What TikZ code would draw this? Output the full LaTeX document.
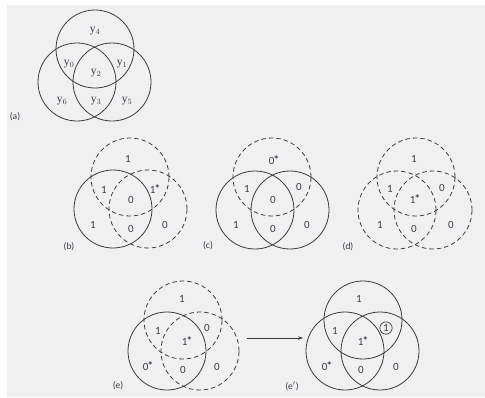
\documentclass[tikz,border=0pt]{standalone}
\usepackage{fontspec}
\setmainfont{Carlito}
\newfontfamily\yfont{Liberation Serif}
\usetikzlibrary{arrows.meta}
\definecolor{bgc}{HTML}{F0F0F0}
\definecolor{linec}{HTML}{3C3C3C}
\definecolor{txtc}{HTML}{3A3A48}
\newcommand{\st}{\kern-0.8pt\raisebox{1.5pt}{\bfseries *}}
\tikzset{
  vc/.style={circle, draw=linec, line width=0.8pt, minimum size=78pt, inner sep=0pt},
  vd/.style={vc, dash pattern=on 4.5pt off 3pt},
  num/.style={text=txtc, font=\fontsize{11}{12}\selectfont, inner sep=0pt},
  yl/.style={text=txtc, font=\yfont\fontsize{11.5}{12}\selectfont, inner sep=0pt},
  plabel/.style={text=txtc, font=\fontsize{9.5}{11}\selectfont, inner sep=0pt},
  ring/.style={circle, draw=linec, line width=0.7pt, inner sep=1.2pt}
}
\begin{document}
\begin{tikzpicture}[x=1pt,y=-1pt]
\useasboundingbox (0,0) rectangle (485,397);
\fill[bgc] (7,5) rectangle (485,397);
% (a)
\node[vc] (aT) at (95,49) {};
\node[vc] (aL) at (77,82) {};
\node[vc] (aR) at (112,82) {};
\node[yl] (y4) at (95,31) {y$_4$};
\node[yl] (y0) at (69,64) {y$_0$};
\node[yl] (y2) at (96,73) {y$_2$};
\node[yl] (y1) at (122,64) {y$_1$};
\node[yl] (y6) at (62,101) {y$_6$};
\node[yl] (y3) at (96,101) {y$_3$};
\node[yl] (y5) at (127,101) {y$_5$};
\node[plabel] (la) at (15,117) {(a)};
% (b)
\node[vd] (bT) at (130,177) {};
\node[vc] (bL) at (113,209) {};
\node[vd] (bR) at (148,209) {};
\node[num] (b1) at (128,159) {1};
\node[num] (b2) at (104,190) {1};
\node[num] (b3) at (155,189) {1\st};
\node[num] (b4) at (131,200) {0};
\node[num] (b5) at (93,225) {1};
\node[num] (b6) at (131,229) {0};
\node[num] (b7) at (165,225) {0};
\node[plabel] (lb) at (69,247) {(b)};
% (c)
\node[vd] (cT) at (272,177) {};
\node[vc] (cL) at (255,210) {};
\node[vc] (cR) at (290,210) {};
\node[num] (c1) at (274,160) {0\st};
\node[num] (c2) at (247,189) {1};
\node[num] (c3) at (299,187) {0};
\node[num] (c4) at (273,200) {0};
\node[num] (c5) at (236,225) {1};
\node[num] (c6) at (273,229) {0};
\node[num] (c7) at (307,225) {0};
\node[plabel] (lc) at (208,246) {(c)};
% (d)
\node[vd] (dT) at (416,177) {};
\node[vd] (dL) at (397,210) {};
\node[vd] (dR) at (433,210) {};
\node[num] (d1) at (414,159) {1};
\node[num] (d2) at (390,189) {1};
\node[num] (d3) at (442,188) {0};
\node[num] (d4) at (415,199) {1\st};
\node[num] (d5) at (380,225) {1};
\node[num] (d6) at (414,229) {0};
\node[num] (d7) at (451,225) {0};
\node[plabel] (ld) at (348,247) {(d)};
% (e)
\node[vd] (eT) at (183,320) {};
\node[vc] (eL) at (167,351) {};
\node[vd] (eR) at (200,351) {};
\node[num] (e1) at (182,299) {1};
\node[num] (e2) at (158,331) {1};
\node[num] (e3) at (207,328) {0};
\node[num] (e4) at (187,341) {1\st};
\node[num] (e5) at (148,366) {0\st};
\node[num] (e6) at (183,370) {0};
\node[num] (e7) at (217,367) {0};
\node[plabel] (le) at (118,386) {(e)};
% (e')
\node[vc] (fT) at (363,320) {};
\node[vc] (fL) at (345,351) {};
\node[vc] (fR) at (380,351) {};
\node[num] (f1) at (359,299) {1};
\node[num] (f2) at (335,331) {1};
\node[num, ring] (f3) at (386,328) {1};
\node[num] (f4) at (363,341) {1\st};
\node[num] (f5) at (327,366) {0\st};
\node[num] (f6) at (361,370) {0};
\node[num] (f7) at (396,367) {0};
\node[plabel] (lf) at (292,386) {(e$'$)};
% arrow
\coordinate (arS) at (247,338);
\coordinate (arE) at (303,338);
\draw[linec, line width=0.8pt, -{Stealth[length=5pt,width=3.5pt]}] (arS) -- (arE);
\end{tikzpicture}
\end{document}
